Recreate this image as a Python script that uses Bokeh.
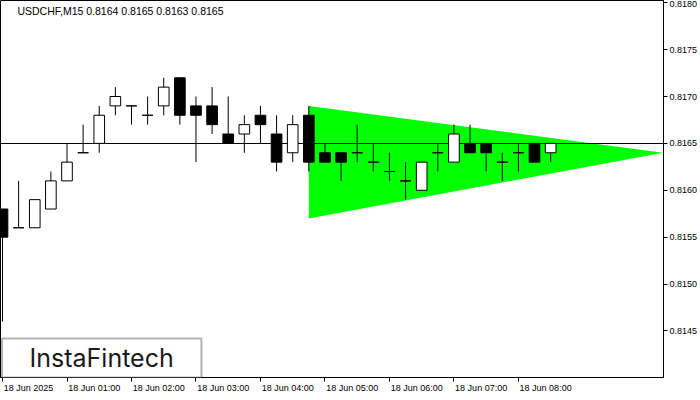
import numpy as np
from bokeh.plotting import figure
from bokeh.models import (FixedTicker, Range1d, Label, BoxAnnotation, PrintfTickFormatter,
                          LinearAxis)
from bokeh.embed import file_html
from bokeh.resources import INLINE

symbol = "USDCHF,M15"
bars_per_hour = 4
time_labels = ["18 Jun 2025", "18 Jun 01:00", "18 Jun 02:00", "18 Jun 03:00", "18 Jun 04:00",
               "18 Jun 05:00", "18 Jun 06:00", "18 Jun 07:00", "18 Jun 08:00"]
opens = [0.8158, 0.8156, 0.8156, 0.8158, 0.8161, 0.8164, 0.8165, 0.8169, 0.8169, 0.8168,
         0.8169, 0.8172, 0.8169, 0.8169, 0.8166, 0.8166, 0.8168, 0.8166, 0.8164, 0.8168,
         0.8164, 0.8164, 0.8164, 0.8163, 0.8162, 0.8161, 0.8160, 0.8164, 0.8163, 0.8165,
         0.8165, 0.8163, 0.8164, 0.8165, 0.8164]
highs = [0.8158, 0.8161, 0.8159, 0.8162, 0.8165, 0.8167, 0.8169, 0.8171, 0.8169, 0.8170,
         0.8172, 0.8172, 0.8170, 0.8171, 0.8170, 0.8168, 0.8169, 0.8168, 0.8168, 0.8169,
         0.8165, 0.8164, 0.8167, 0.8165, 0.8164, 0.8163, 0.8163, 0.8165, 0.8167, 0.8167,
         0.8165, 0.8164, 0.8165, 0.8165, 0.8165]
lows = [0.8146, 0.8156, 0.8156, 0.8158, 0.8161, 0.8164, 0.8164, 0.8168, 0.8167, 0.8167,
        0.8168, 0.8167, 0.8163, 0.8166, 0.8165, 0.8164, 0.8165, 0.8162, 0.8163, 0.8162,
        0.8163, 0.8161, 0.8163, 0.8162, 0.8161, 0.8159, 0.8160, 0.8162, 0.8163, 0.8164,
        0.8162, 0.8161, 0.8162, 0.8163, 0.8163]
closes = [0.8155, 0.8156, 0.8159, 0.8161, 0.8163, 0.8164, 0.8168, 0.8170, 0.8169, 0.8168,
          0.8171, 0.8168, 0.8168, 0.8167, 0.8165, 0.8167, 0.8167, 0.8163, 0.8167, 0.8163,
          0.8163, 0.8163, 0.8164, 0.8163, 0.8162, 0.8161, 0.8163, 0.8164, 0.8166, 0.8164,
          0.8164, 0.8163, 0.8164, 0.8163, 0.8165]
price_ticks = [0.8145, 0.8150, 0.8155, 0.8160, 0.8165, 0.8170, 0.8175, 0.8180]
bid = 0.8165
# symmetrical triangle pattern (bar index, price)
tri_x = [19, 19, 40.97]
tri_y = [0.8169, 0.8157, 0.8164]

idx = np.arange(len(opens))
o = np.array(opens); c = np.array(closes)
top = np.maximum(o, c); bot = np.minimum(o, c)
fills = ["white" if cc > oo else "black" for oo, cc in zip(opens, closes)]

FONT = "Liberation Sans"
X0, X1 = -0.125, 41.0
Y0, Y1 = 0.814003, 0.818024
FH = 377
FW_EST = 658
p = figure(width=700, frame_height=FH, output_backend="svg", toolbar_location=None,
           x_range=Range1d(X0, X1), y_range=Range1d(Y0, Y1),
           y_axis_location="right", min_border_left=0, min_border_top=0,
           min_border_right=0, min_border_bottom=0)
p.background_fill_color = "white"
p.border_fill_color = "white"
p.outline_line_color = "black"
p.outline_line_width = 1
p.xgrid.visible = False
p.ygrid.visible = False

p.patch(tri_x, tri_y, fill_color="#00ff00", line_color=None)
p.hspan(y=[bid], line_color="black", line_width=1)
p.segment(x0=idx, y0=lows, x1=idx, y1=highs, line_color="black", line_width=1)
p.vbar(x=idx, width=0.66, top=top, bottom=bot, fill_color=fills, line_color="black", line_width=1)

# y axis
p.yaxis.ticker = FixedTicker(ticks=price_ticks)
p.yaxis.formatter = PrintfTickFormatter(format="%.4f")
p.yaxis.major_tick_out = 4
p.yaxis.major_tick_in = 0
p.yaxis.minor_tick_line_color = None
p.yaxis.axis_line_color = "black"
p.yaxis.major_label_text_font = FONT
p.yaxis.major_label_text_font_size = "9px"
p.yaxis.major_label_text_color = "black"
p.yaxis.major_label_standoff = 2

# x axis: tick marks only
tick_idx = [bars_per_hour * i for i in range(len(time_labels))]
xa = p.xaxis[0]
xa.ticker = FixedTicker(ticks=tick_idx)
xa.major_tick_out = 4
xa.major_tick_in = 0
xa.minor_tick_line_color = None
xa.axis_line_color = "black"
xa.major_label_text_color = None
xa.major_label_text_font_size = "1px"
xa.major_label_standoff = 0

# second x axis: labels, left-aligned at each tick (centre shifted by half label width)
AW = {"1": .556, "8": .556, "0": .556, "2": .556, "5": .556, "3": .556, "4": .556,
      "6": .556, "7": .556, ":": .278, " ": .278, "J": .5, "u": .556, "n": .556}
ppb = FW_EST / (X1 - X0)
lab_pos = [t + (sum(AW.get(ch, .556) for ch in lab) * 9 / 2 + 1) / ppb
           for t, lab in zip(tick_idx, time_labels)]
xl = LinearAxis(ticker=FixedTicker(ticks=lab_pos),
                major_label_overrides={pp: lab for pp, lab in zip(lab_pos, time_labels)},
                major_tick_out=0, major_tick_in=0, major_tick_line_color=None,
                minor_tick_line_color=None, axis_line_color=None,
                major_label_text_font=FONT, major_label_text_font_size="9px",
                major_label_text_color="black", major_label_standoff=1)
p.add_layout(xl, "below")

# title (symbol + last bar OHLC)
title_txt = f"{symbol}  {opens[-1]:.4f} {highs[-1]:.4f} {lows[-1]:.4f} {closes[-1]:.4f}"
p.add_layout(Label(x=0.925, y=0.817911, text=title_txt, text_font=FONT,
                   text_font_size="10.5px", text_color="black", text_baseline="middle"))

# logo box
p.add_layout(BoxAnnotation(left=-0.03, right=12.34, bottom=Y0, top=0.814418,
                           fill_color="white", fill_alpha=1, line_color="black", line_width=2))
p.add_layout(Label(x=6.15, y=0.81421, text="InstaFintech", text_font="Inter",
                   text_font_size="25px", text_color="#1a1a1a",
                   text_align="center", text_baseline="middle"))

open("out.html", "w").write(file_html(p, INLINE))
